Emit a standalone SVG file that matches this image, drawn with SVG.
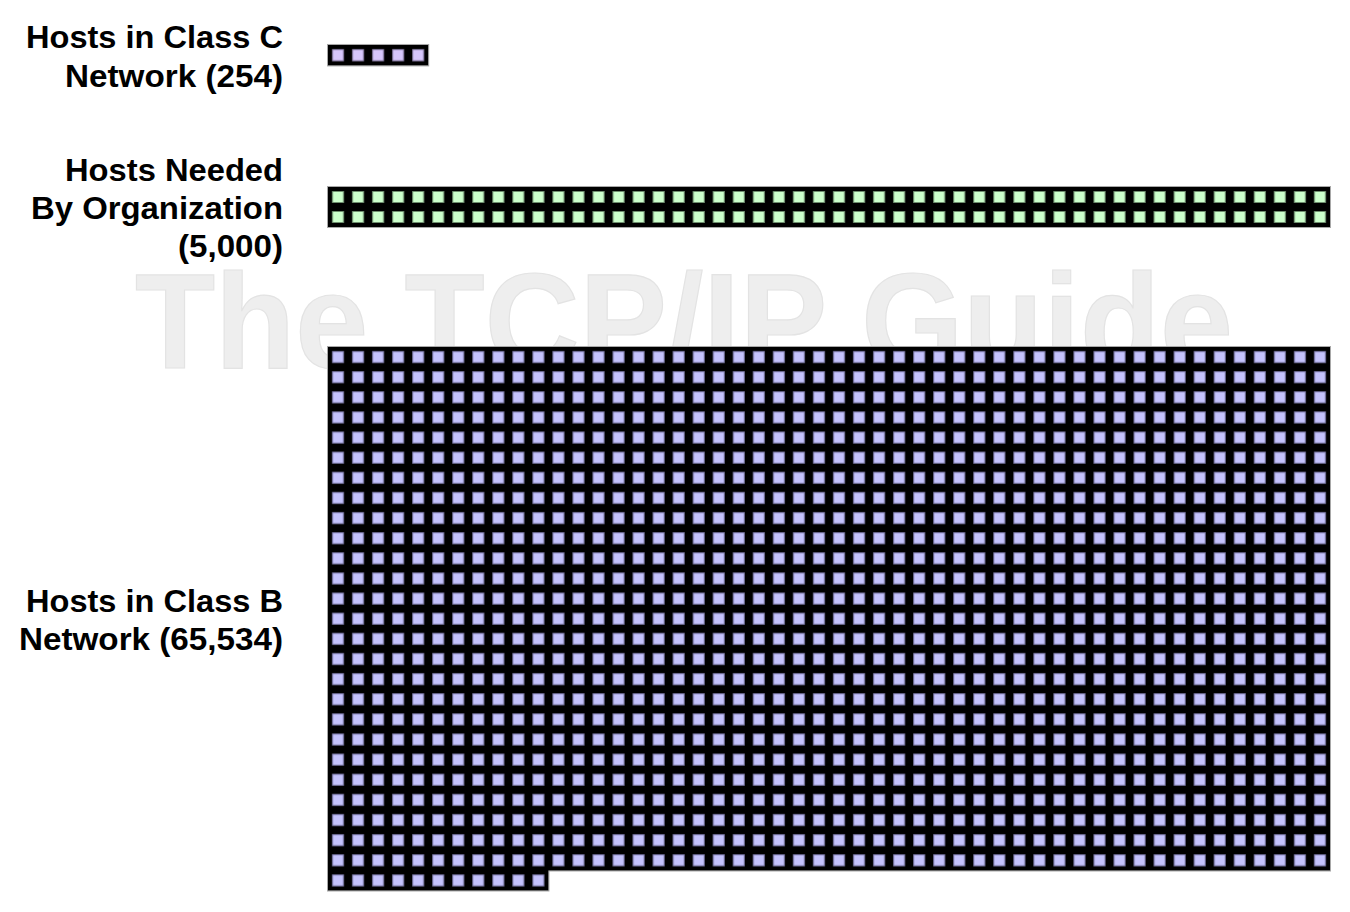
<svg xmlns="http://www.w3.org/2000/svg" width="1350" height="912" viewBox="0 0 1350 912">
  <style>
    .lbl { font-family: "Liberation Sans", Arial, sans-serif; font-weight: bold; font-size: 32px; fill: #000000; text-anchor: end; }
    .wm { font-family: "Liberation Sans", Arial, sans-serif; font-weight: bold; font-size: 136px; fill: #eeeeee; stroke: #e3e3e3; stroke-width: 1.2; }
    .edge { fill: none; stroke: #a8a8a8; stroke-width: 1; }
  </style>
  <defs>
    <pattern id="pC" patternUnits="userSpaceOnUse" x="0" y="0" width="20" height="20">
      <rect width="20" height="20" fill="#000000"/>
      <rect x="4.5" y="4.5" width="11" height="11" fill="#d6c6fb" stroke="#7d7298" stroke-width="1"/>
    </pattern>
    <pattern id="pG" patternUnits="userSpaceOnUse" x="0" y="0" width="20" height="20">
      <rect width="20" height="20" fill="#000000"/>
      <rect x="4.5" y="4.5" width="11" height="11" fill="#ccffcc" stroke="#6f8f6f" stroke-width="1"/>
    </pattern>
    <pattern id="pB" patternUnits="userSpaceOnUse" x="0" y="0" width="20" height="20">
      <rect width="20" height="20" fill="#000000"/>
      <rect x="4.5" y="4.5" width="11" height="11" fill="#c4c2fc" stroke="#6f6d98" stroke-width="1"/>
    </pattern>
  </defs>
  <rect width="1350" height="912" fill="#ffffff"/>

  <text class="wm" x="135" y="368" textLength="1098" lengthAdjust="spacingAndGlyphs">The TCP/IP Guide</text>

  <g id="classC">
    <text class="lbl" x="283" y="48" textLength="257" lengthAdjust="spacingAndGlyphs">Hosts in Class C</text>
    <text class="lbl" x="283" y="87" textLength="218" lengthAdjust="spacingAndGlyphs">Network (254)</text>
    <g transform="translate(328,45) scale(1.002,1.02)">
      <rect class="edge" x="-0.5" y="-0.5" width="101" height="21"/>
      <rect width="100" height="20" fill="url(#pC)"/>
    </g>
  </g>

  <g id="needed">
    <text class="lbl" x="283" y="181" textLength="218" lengthAdjust="spacingAndGlyphs">Hosts Needed</text>
    <text class="lbl" x="283" y="219" textLength="252" lengthAdjust="spacingAndGlyphs">By Organization</text>
    <text class="lbl" x="283" y="257" textLength="105" lengthAdjust="spacingAndGlyphs">(5,000)</text>
    <g transform="translate(328,187) scale(1.002,1)">
      <rect class="edge" x="-0.5" y="-0.5" width="1001" height="41"/>
      <rect width="1000" height="40" fill="url(#pG)"/>
    </g>
  </g>

  <g id="classB">
    <text class="lbl" x="283" y="612" textLength="257" lengthAdjust="spacingAndGlyphs">Hosts in Class B</text>
    <text class="lbl" x="283" y="650" textLength="264" lengthAdjust="spacingAndGlyphs">Network (65,534)</text>
    <g transform="translate(328,347) scale(1.002,1.0065)">
      <path class="edge" d="M-0.5,-0.5 H1000.5 V520.5 H220.5 V540.5 H-0.5 Z"/>
      <path d="M0,0 H1000 V520 H220 V540 H0 Z" fill="url(#pB)"/>
    </g>
  </g>

  <g id="connectors"/>
</svg>
